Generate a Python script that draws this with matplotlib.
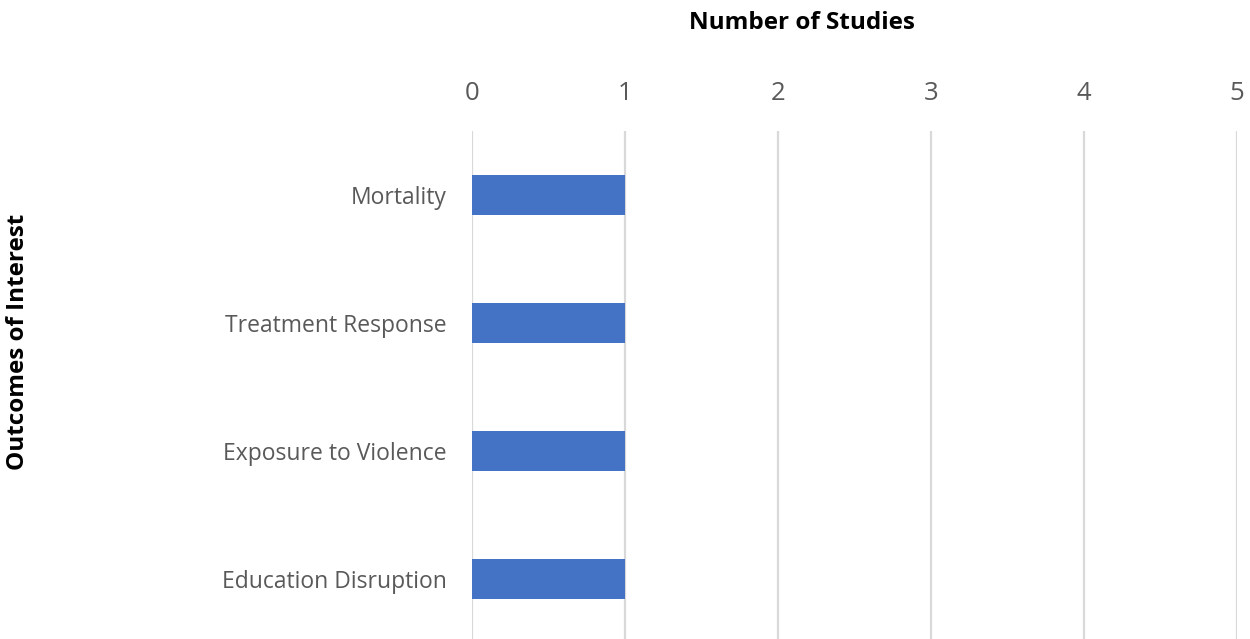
import matplotlib.pyplot as plt
import numpy as np

categories = ["Mortality", "Treatment Response", "Exposure to Violence", "Education Disruption"]
studies = [1, 1, 1, 1]
x_ticks = [0, 1, 2, 3, 4, 5]

plt.rcParams['font.family'] = ['Open Sans', 'DejaVu Sans']

fig = plt.figure(figsize=(12.5, 6.39), dpi=100)
ax = fig.add_axes([0.3776, -0.01, 0.612, 0.805])

pos = np.arange(len(categories))
ax.barh(pos, studies, height=0.31, color='#4472C4', zorder=3)

ax.set_ylim(len(categories) - 0.5 + 0.02, -0.5)
ax.set_xlim(0, 5)
ax.set_xticks(x_ticks)
ax.set_yticks(pos)
ax.set_yticklabels(categories)

ax.xaxis.tick_top()
ax.tick_params(axis='x', length=0, pad=18, labelsize=18.5, labelcolor='#595959')
ax.tick_params(axis='y', length=0, pad=18, labelsize=16.5, labelcolor='#595959')
for lbl in ax.get_yticklabels():
    lbl.set_va('center_baseline')
ax.grid(axis='x', color='#D9D9D9', linewidth=1.6, zorder=0)
for s in ax.spines.values():
    s.set_visible(False)

fig.text(0.6416, 0.964, "Number of Studies", ha='center', va='center',
         fontsize=17.5, fontweight='bold')
fig.text(0.0145, 0.465, "Outcomes of Interest", ha='center', va='center',
         rotation=90, fontsize=17.5, fontweight='bold')

fig.savefig('out.png', dpi=100)
